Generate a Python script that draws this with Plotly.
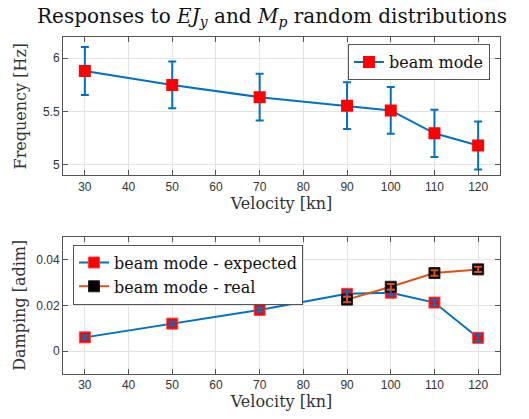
import plotly.graph_objects as go
from plotly.subplots import make_subplots

velocity = [30, 50, 70, 90, 100, 110, 120]
freq = [5.88, 5.75, 5.635, 5.555, 5.51, 5.295, 5.18]
freq_err = [0.225, 0.22, 0.22, 0.22, 0.22, 0.222, 0.225]

damp_expected = [0.006, 0.012, 0.018, 0.025, 0.0255, 0.0212, 0.0058]
damp_expected_err = [0.0008, 0.0008, 0.0008, 0.0012, 0.0012, 0.0012, 0.0015]
vel_real = [90, 100, 110, 120]
damp_real = [0.0225, 0.0281, 0.0341, 0.0357]
damp_real_err = [0.0012, 0.0012, 0.0012, 0.0012]

BLUE = "#0072BD"
ORANGE = "#D95319"
SERIF = "DejaVu Serif"
SANS = "Liberation Sans"

fig = make_subplots(rows=2, cols=1)

# Top: frequency
fig.add_trace(go.Scatter(
    x=velocity, y=freq, mode="lines+markers", name="beam mode",
    line=dict(color=BLUE, width=2),
    marker=dict(symbol="square", size=12, color="#FF0000", line=dict(width=0)),
    error_y=dict(type="data", array=freq_err, visible=True, color=BLUE, thickness=2, width=4),
    legend="legend"), row=1, col=1)

# Bottom: damping
fig.add_trace(go.Scatter(
    x=velocity, y=damp_expected, mode="lines+markers", name="beam mode - expected",
    line=dict(color=BLUE, width=2),
    marker=dict(symbol="square", size=11, color="#FF0000", line=dict(width=1, color="#FF4040")),
    legend="legend2"), row=2, col=1)
fig.add_trace(go.Scatter(
    x=vel_real, y=damp_real, mode="lines+markers", name="beam mode - real",
    line=dict(color=ORANGE, width=2),
    marker=dict(symbol="square", size=11, color="#000000", line=dict(width=1, color="#202020")),
    legend="legend2"), row=2, col=1)
# error bars drawn over the markers
fig.add_trace(go.Scatter(
    x=velocity, y=damp_expected, mode="markers", showlegend=False,
    marker=dict(size=1, color="rgba(0,0,0,0)"),
    error_y=dict(type="data", array=damp_expected_err, visible=True, color=BLUE, thickness=2, width=4),
    hoverinfo="skip"), row=2, col=1)
fig.add_trace(go.Scatter(
    x=vel_real, y=damp_real, mode="markers", showlegend=False,
    marker=dict(size=1, color="rgba(0,0,0,0)"),
    error_y=dict(type="data", array=damp_real_err, visible=True, color=ORANGE, thickness=2, width=4),
    hoverinfo="skip"), row=2, col=1)

axis_common = dict(
    showgrid=True, gridcolor="#E3E3E3", gridwidth=1,
    showline=True, linecolor="#555555", linewidth=1, mirror="ticks",
    ticks="inside", ticklen=5, tickcolor="#555555",
    tickfont=dict(family=SANS, size=12, color="#333333"),
    zeroline=False,
)

fig.update_xaxes(**axis_common, range=[25, 125], tickmode="array",
                 tickvals=[30, 40, 50, 60, 70, 80, 90, 100, 110, 120],
                 title=dict(text="Velocity [kn]", font=dict(family=SERIF, size=16, color="#333333"), standoff=3))
fig.update_yaxes(**axis_common)
fig.update_yaxes(range=[4.9, 6.2], tickvals=[5, 5.5, 6], ticktext=["5", "5.5", "6"],
                 title=dict(text="Frequency [Hz]", font=dict(family=SERIF, size=16, color="#333333"), standoff=12),
                 row=1, col=1)
fig.update_yaxes(range=[-0.01, 0.05], tickvals=[0, 0.02, 0.04], ticktext=["0", "0.02", "0.04"],
                 title=dict(text="Damping [adim]", font=dict(family=SERIF, size=16, color="#333333"), standoff=6),
                 row=2, col=1)

fig.update_layout(
    width=529, height=419,
    margin=dict(l=63, r=29, t=37, b=41),
    paper_bgcolor="white", plot_bgcolor="white",
    title=dict(text="Responses to <i>EJ</i><sub><i>y</i></sub> and <i>M</i><sub><i>p</i></sub> random distributions",
               font=dict(family=SERIF, size=20, color="#111111"),
               x=0.07, xref="container", xanchor="left", y=0.962, yref="container", yanchor="middle"),
    xaxis=dict(domain=[0, 1]), xaxis2=dict(domain=[0, 1]),
    yaxis=dict(domain=[0.5894, 1.0]), yaxis2=dict(domain=[0.0, 0.4076]),
    legend=dict(x=0.977, y=0.979, xanchor="right", yanchor="top", bgcolor="white",
                bordercolor="#555555", borderwidth=1,
                font=dict(family=SERIF, size=16, color="#111111")),
    legend2=dict(x=0.023, y=0.384, xanchor="left", yanchor="top", bgcolor="white",
                 bordercolor="#555555", borderwidth=1, tracegroupgap=0,
                 font=dict(family=SERIF, size=16, color="#111111")),
    showlegend=True,
)

fig.write_html("out.html")
